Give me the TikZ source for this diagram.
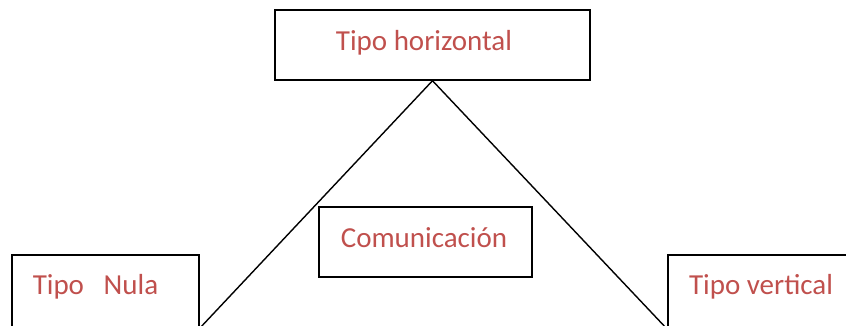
\documentclass[tikz,border=0pt]{standalone}
\usepackage{fontspec}
\setmainfont{Carlito}
\usepackage{tikz}
\definecolor{rojo}{RGB}{192,80,77}

\begin{document}
\begin{tikzpicture}[x=1pt,y=-1pt,
  caja/.style={draw, line width=1.4pt, rectangle, inner sep=0pt},
  txt/.style={text=rojo, font=\fontsize{29}{34}\selectfont, anchor=base, inner sep=0pt}]
\useasboundingbox (0,0) rectangle (846,325);
% cajas
\node[caja, minimum width=315pt, minimum height=70pt] (horiz) at (432.5,45) {};
\node[caja, minimum width=213pt, minimum height=70pt] (comun) at (425.5,242) {};
\node[caja, minimum width=187pt, minimum height=80pt] (nula) at (105.5,295) {};
\node[caja, minimum width=187pt, minimum height=80pt] (vert) at (761.5,295) {};
% textos
\node[txt] (horizT) at (424,50) {Tipo horizontal};
\node[txt] (comunT) at (424,247) {Comunicación};
\node[txt] (nulaT) at (95.5,294) {Tipo\ \ \ Nula};
\node[txt] (vertT) at (761,294) {Tipo vertical};
% lineas
\coordinate (pL) at (199,329);
\coordinate (pR) at (668,330);
\draw[line width=1.4pt] (pL) -- (horiz.south) -- (pR);
\end{tikzpicture}
\end{document}
